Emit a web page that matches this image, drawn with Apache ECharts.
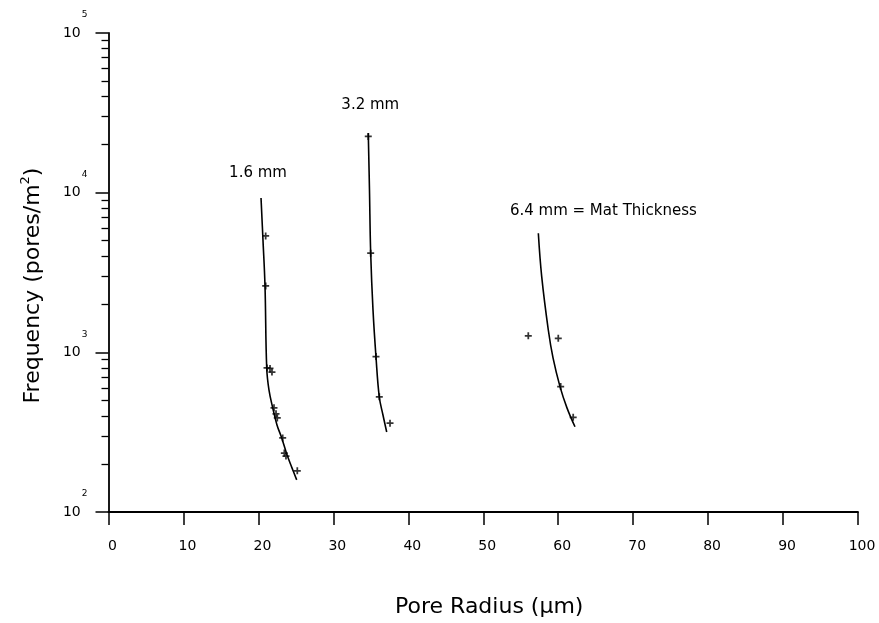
<!DOCTYPE html>
<html>
<head>
<meta charset="utf-8">
<script src="https://cdn.jsdelivr.net/npm/echarts@6/dist/echarts.min.js"></script>
<style>html,body{margin:0;padding:0;background:#fff}#c{width:879px;height:623px}</style>
</head>
<body>
<div id="c"></div>
<script>
// Axis ticks
var xTicks = [0, 10, 20, 30, 40, 50, 60, 70, 80, 90, 100];
var yDecades = [100, 1000, 10000, 100000];

// Fitted curves [pore radius (µm), frequency (pores/m²)]
var fit16 = [[20.35, 9270], [20.61, 5060], [20.88, 2607], [21.11, 798], [21.41, 581], [21.91, 449], [22.48, 351], [23.11, 291], [23.82, 228], [24.48, 189], [25.11, 159]];
var fit32 = [[34.66, 23600], [34.82, 10420], [34.98, 4200], [35.29, 1845], [35.69, 935], [36.13, 525], [36.62, 405], [37.12, 317]];
var fit64 = [[57.35, 5570], [57.80, 2980], [58.68, 1380], [59.31, 923], [60.24, 610], [61.17, 449], [62.24, 342]];

// Measured points
var pts16 = [[20.97, 5360], [20.97, 2607], [21.15, 798], [21.55, 793], [21.81, 753], [22.08, 449], [22.35, 412], [22.52, 388], [23.24, 291], [23.46, 234], [23.68, 224], [25.19, 181]];
var pts32 = [[34.66, 22500], [34.98, 4180], [35.69, 940], [36.13, 527], [37.56, 360]];
var pts64 = [[56.01, 1268], [60.01, 1225], [60.33, 610], [62.0, 392]];

// Curve labels
var curveLabels = ['1.6 mm', '3.2 mm', '6.4 mm = Mat Thickness'];

var INK = '#000';
var plus = 'path://M3,0h2v3h3v2h-3v3h-2v-3h-3v-2h3z';
var font = 'DejaVu Sans';

function fitSeries(data) {
  return { type: 'line', data: data, smooth: 0.4, symbol: 'none', showSymbol: false,
    lineStyle: { color: INK, width: 1.6 }, z: 3, silent: true };
}
function ptSeries(data) {
  return { type: 'scatter', data: data, symbol: plus, symbolSize: 7,
    itemStyle: { color: INK }, z: 4, silent: true };
}
var labelOffsets = [[-3, -25], [2, -28], [65, -22]];
var anchors = [fit16[0], fit32[0], fit64[0]];
var annData = anchors.map(function (a, i) {
  return { value: a, label: { show: true, formatter: curveLabels[i], offset: labelOffsets[i] } };
});

var chart = echarts.init(document.getElementById('c'));
chart.setOption({
  animation: false,
  backgroundColor: '#fff',
  grid: { left: 108.5, right: 21, top: 33, bottom: 111, containLabel: false },
  xAxis: {
    type: 'value', min: 0, max: 100, interval: 10,
    name: 'Pore Radius (µm)', nameLocation: 'middle', nameGap: 84,
    nameTextStyle: { fontFamily: font, fontSize: 22, color: INK, padding: [0, 0, 0, 12] },
    axisLine: { show: true, onZero: false, lineStyle: { color: INK, width: 1.8 } },
    axisTick: { show: true, length: 13, lineStyle: { color: INK, width: 1.5 } },
    axisLabel: { fontFamily: font, fontSize: 14, color: INK, margin: 27, padding: [0, 0, 0, 8],
      customValues: xTicks },
    splitLine: { show: false }
  },
  yAxis: {
    type: 'log', logBase: 10, min: 100, max: 100000,
    name: 'Frequency (pores/m{sup|2})', nameLocation: 'middle', nameGap: 62, nameRotate: 90,
    nameTextStyle: { fontFamily: font, fontSize: 22, color: INK, padding: [0, 26, 0, 0],
      rich: { sup: { fontFamily: font, fontSize: 13, color: INK, padding: [0, 0, 14, 0] } } },
    axisLine: { show: true, onZero: false, lineStyle: { color: INK, width: 1.8 } },
    axisTick: { show: true, length: 13, lineStyle: { color: INK, width: 1.5 } },
    minorTick: { show: true, splitNumber: 9, length: 7, lineStyle: { color: INK, width: 1.3 } },
    minorSplitLine: { show: false },
    splitLine: { show: false },
    axisLabel: {
      margin: 21, color: INK,
      customValues: yDecades,
      formatter: function (v) {
        var e = Math.round(Math.log(v) / Math.LN10);
        return '{b|10}{sup|' + e + '}';
      },
      rich: {
        b: { fontFamily: font, fontSize: 14, color: INK },
        sup: { fontFamily: font, fontSize: 9, color: INK, padding: [0, 0, 36, 1] }
      }
    }
  },
  series: [
    fitSeries(fit16), fitSeries(fit32), fitSeries(fit64),
    ptSeries(pts16), ptSeries(pts32), ptSeries(pts64),
    { type: 'scatter', data: annData, symbolSize: 0, symbol: 'circle', z: 5, silent: true,
      itemStyle: { color: INK, opacity: 1 },
      label: { show: true, position: 'inside', fontFamily: font, fontSize: 15,
        color: INK, opacity: 1, textBorderWidth: 0 } }
  ]
});
</script>
</body>
</html>
